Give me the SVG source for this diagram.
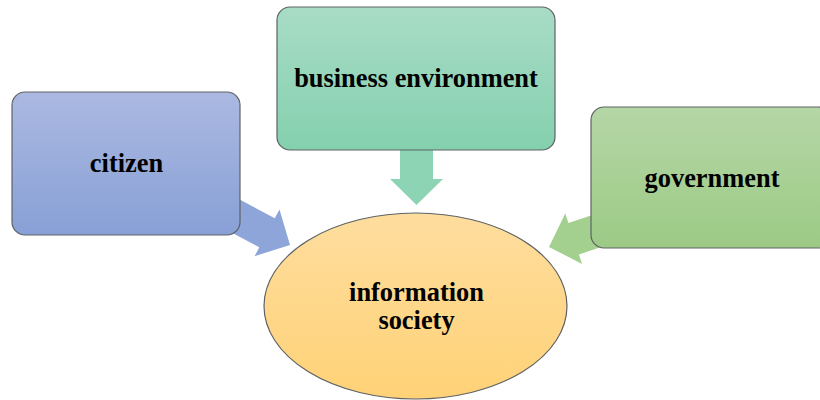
<svg xmlns="http://www.w3.org/2000/svg" width="820" height="400" viewBox="0 0 820 400">
  <defs>
    <linearGradient id="gCitizen" x1="0" y1="0" x2="0" y2="1">
      <stop offset="0" stop-color="#abb9e1"/>
      <stop offset="1" stop-color="#88a0d6"/>
    </linearGradient>
    <linearGradient id="gBusiness" x1="0" y1="0" x2="0" y2="1">
      <stop offset="0" stop-color="#a8dcc6"/>
      <stop offset="1" stop-color="#84d0ae"/>
    </linearGradient>
    <linearGradient id="gGov" x1="0" y1="0" x2="0" y2="1">
      <stop offset="0" stop-color="#b5d6a6"/>
      <stop offset="1" stop-color="#9cca85"/>
    </linearGradient>
    <linearGradient id="gSociety" x1="0" y1="0" x2="0" y2="1">
      <stop offset="0" stop-color="#fedd9e"/>
      <stop offset="1" stop-color="#ffd277"/>
    </linearGradient>
    <!-- block arrow pointing along +x, tip at origin -->
    <polygon id="blockArrow" points="-80,-16.5 -26,-16.5 -26,-26.5 0,0 -26,26.5 -26,16.5 -80,16.5"/>
  </defs>
  <style>
    .box { stroke: #5e6266; stroke-width: 1.2; }
    .label { font-family: "Liberation Serif", "Times New Roman", serif; font-weight: bold; font-size: 26.4px; fill: #000; text-anchor: middle; }
  </style>

  <rect width="820" height="400" fill="#ffffff"/>

  <!-- connectors (drawn beneath the boxes) -->
  <g id="connectors">
    <use href="#blockArrow" fill="#8ea5da" transform="translate(290,245) rotate(28)"/>
    <use href="#blockArrow" fill="#8dd4b5" transform="translate(416.5,205) rotate(90)"/>
    <use href="#blockArrow" fill="#a3cf8f" transform="translate(549,247) rotate(161.5)"/>
  </g>

  <g id="citizen">
    <rect class="box" x="12" y="92" width="228" height="143" rx="13" fill="url(#gCitizen)"/>
    <text class="label" x="126.5" y="172">citizen</text>
  </g>

  <g id="business-environment">
    <rect class="box" x="277" y="7" width="278" height="143" rx="13" fill="url(#gBusiness)"/>
    <text class="label" x="416" y="87">business environment</text>
  </g>

  <g id="government">
    <rect class="box" x="591" y="107" width="240" height="141" rx="13" fill="url(#gGov)"/>
    <text class="label" x="712" y="187">government</text>
  </g>

  <g id="information-society">
    <ellipse class="box" cx="415.5" cy="306" rx="151.5" ry="93" fill="url(#gSociety)"/>
    <text class="label" x="416.5" y="301">information</text>
    <text class="label" x="416.5" y="329">society</text>
  </g>
</svg>
